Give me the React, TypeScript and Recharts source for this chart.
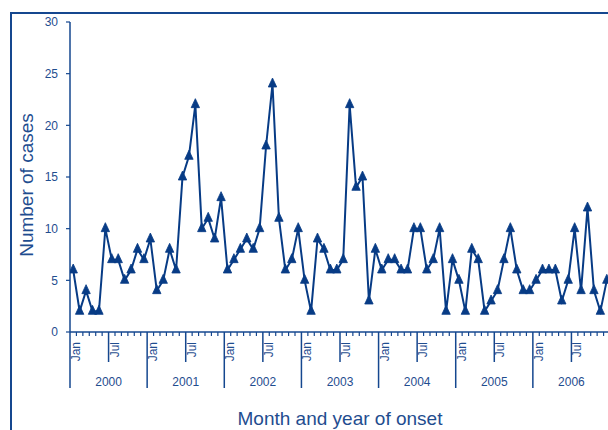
import React from 'react';
import { LineChart, Line, XAxis, YAxis, Label } from 'recharts';

const years = [2000, 2001, 2002, 2003, 2004, 2005, 2006];
const cases2000 = [6, 2, 4, 2, 2, 10, 7, 7, 5, 6, 8, 7];
const cases2001 = [9, 4, 5, 8, 6, 15, 17, 22, 10, 11, 9, 13];
const cases2002 = [6, 7, 8, 9, 8, 10, 18, 24, 11, 6, 7, 10];
const cases2003 = [5, 2, 9, 8, 6, 6, 7, 22, 14, 15, 3, 8];
const cases2004 = [6, 7, 7, 6, 6, 10, 10, 6, 7, 10, 2, 7];
const cases2005 = [5, 2, 8, 7, 2, 3, 4, 7, 10, 6, 4, 4];
const cases2006 = [5, 6, 6, 6, 3, 5, 10, 4, 12, 4, 2, 5];
const yTicks = [0, 5, 10, 15, 20, 25, 30];
const halfYearLabels = ['Jan', 'Jul'];

const allCases = [cases2000, cases2001, cases2002, cases2003, cases2004, cases2005, cases2006];
const data: { m: number; cases: number }[] = [];
allCases.forEach((yr, yi) => yr.forEach((v, mi) => data.push({ m: yi * 12 + mi + 0.5, cases: v })));
const monthBoundaries = Array.from({ length: years.length * 12 + 1 }, (_, i) => i);

const TEXT = '#1f4d8f';
const AXIS = '#15478f';
const LINE = '#073b85';
const FONT = '"Liberation Sans", Arial, sans-serif';

const MonthTick = (props: any) => {
  const { x, y, payload } = props;
  const v = payload.value as number;
  const m = v % 12;
  const yi = Math.floor(v / 12);
  if (m === 0) {
    return (
      <g>
        <line x1={x} y1={y} x2={x} y2={y + 56} stroke={AXIS} strokeWidth={1.5} />
        {yi < years.length && (
          <text x={x + 10} y={y + 10} transform={`rotate(-90 ${x + 10} ${y + 10})`} textAnchor="end" fontSize={12} fill={TEXT} fontFamily={FONT}>
            {halfYearLabels[0]}
          </text>
        )}
      </g>
    );
  }
  if (m === 6) {
    return (
      <g>
        <line x1={x} y1={y} x2={x} y2={y + 30} stroke={AXIS} strokeWidth={1.5} />
        <text x={x + 10} y={y + 10} transform={`rotate(-90 ${x + 10} ${y + 10})`} textAnchor="end" fontSize={12} fill={TEXT} fontFamily={FONT}>
          {halfYearLabels[1]}
        </text>
        <text x={x} y={y + 54} textAnchor="middle" fontSize={12} fill={TEXT} fontFamily={FONT}>
          {years[yi]}
        </text>
      </g>
    );
  }
  return <line x1={x} y1={y} x2={x} y2={y + 4} stroke={AXIS} strokeWidth={1.2} />;
};

const TriangleDot = (props: any) => {
  const { cx, cy, index } = props;
  if (cx == null || cy == null) return <g key={`d${index}`} />;
  return (
    <polygon
      key={`d${index}`}
      points={`${cx},${cy - 6} ${cx - 4.2},${cy + 3} ${cx + 4.2},${cy + 3}`}
      fill={LINE}
      stroke={LINE}
      strokeWidth={0.8}
    />
  );
};

const YTitle = (props: any) => {
  const vb = props.viewBox || { x: 0, y: 22, width: 70, height: 310 };
  const cx = vb.x + 33;
  const cy = vb.y + vb.height / 2 + 8;
  return (
    <text x={cx} y={cy} transform={`rotate(-90 ${cx} ${cy})`} textAnchor="middle" fontSize={19} fill={TEXT} fontFamily={FONT}>
      Number of cases
    </text>
  );
};

const XTitle = (props: any) => {
  const vb = props.viewBox || { x: 70, y: 332, width: 540, height: 98 };
  const cx = vb.x + vb.width / 2;
  const cy = vb.y + 93;
  return (
    <text x={cx} y={cy} textAnchor="middle" fontSize={19} fill={TEXT} fontFamily={FONT}>
      Month and year of onset
    </text>
  );
};

export default function App() {
  return (
    <div style={{ position: 'fixed', left: 0, top: 0, width: 608, height: 430, overflow: 'hidden', background: '#fff', fontFamily: FONT }}>
      <LineChart width={620} height={430} data={data} margin={{ top: 22, right: 10, left: 0, bottom: 0 }}>
        <XAxis
          type="number"
          dataKey="m"
          domain={[0, 84]}
          ticks={monthBoundaries}
          interval={0}
          tickLine={false}
          tickSize={0}
          tickMargin={0}
          height={98}
          axisLine={{ stroke: AXIS, strokeWidth: 1.5 }}
          tick={<MonthTick />}
          allowDataOverflow
        >
          <Label content={<XTitle />} />
        </XAxis>
        <YAxis
          type="number"
          domain={[0, 30]}
          ticks={yTicks}
          interval={0}
          width={70}
          tickSize={4}
          tickMargin={8}
          axisLine={{ stroke: AXIS, strokeWidth: 1.5 }}
          tickLine={{ stroke: AXIS, strokeWidth: 1.2 }}
          tick={{ fill: TEXT, fontSize: 12, fontFamily: FONT }}
        >
          <Label content={<YTitle />} />
        </YAxis>
        <Line
          type="linear"
          dataKey="cases"
          stroke={LINE}
          strokeWidth={2}
          dot={<TriangleDot />}
          activeDot={false}
          isAnimationActive={false}
        />
      </LineChart>
      <div
        style={{
          position: 'absolute',
          left: 10,
          top: 12,
          width: 620,
          height: 440,
          borderTop: `2px solid ${AXIS}`,
          borderLeft: `2px solid ${AXIS}`,
          pointerEvents: 'none',
        }}
      />
    </div>
  );
}
